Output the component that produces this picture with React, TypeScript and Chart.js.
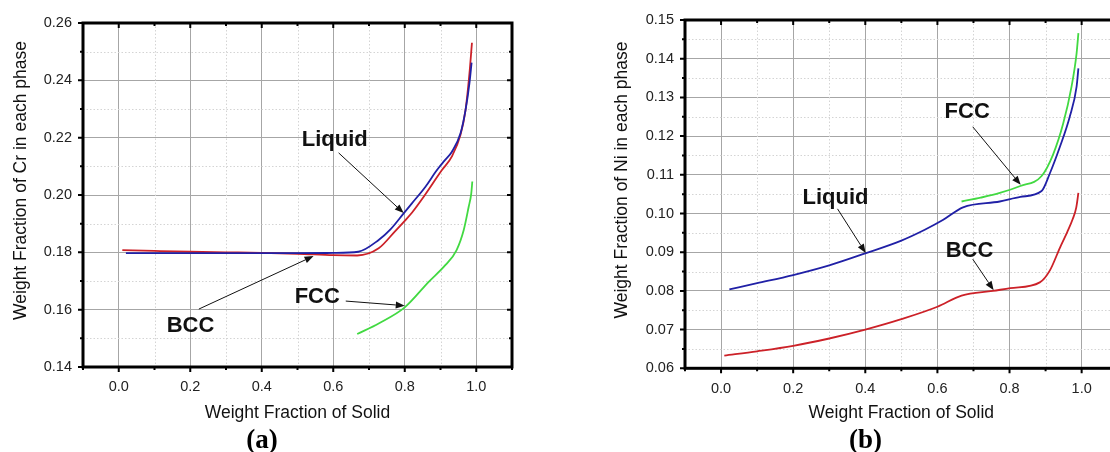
import React, { useEffect, useRef } from 'react';
import { Chart, registerables } from 'chart.js';

Chart.register(...registerables);

// ---------------- Panel (a): Cr ----------------
const liquidCrX = [0.02, 0.1, 0.2, 0.3, 0.4, 0.5, 0.6, 0.67, 0.727, 0.76, 0.797, 0.82, 0.858, 0.886, 0.895, 0.91, 0.932, 0.956, 0.97, 0.981, 0.987];
const liquidCrY = [0.1797, 0.1797, 0.1797, 0.1797, 0.1797, 0.1797, 0.1798, 0.1802, 0.1843, 0.188, 0.1936, 0.1971, 0.2029, 0.208, 0.2095, 0.2118, 0.2151, 0.2215, 0.2296, 0.239, 0.2462];

const bccCrX = [0.01, 0.1, 0.2, 0.3, 0.4, 0.5, 0.6, 0.667, 0.727, 0.774, 0.8, 0.82, 0.848, 0.904, 0.932, 0.956, 0.97, 0.981, 0.988];
const bccCrY = [0.1808, 0.1805, 0.1802, 0.18, 0.1798, 0.1795, 0.179, 0.1789, 0.1814, 0.1875, 0.191, 0.1938, 0.1985, 0.2087, 0.2135, 0.221, 0.2296, 0.2424, 0.2531];

const fccCrX = [0.667, 0.727, 0.8, 0.867, 0.914, 0.945, 0.965, 0.979, 0.986, 0.989];
const fccCrY = [0.1515, 0.1552, 0.1608, 0.1697, 0.1756, 0.1808, 0.1878, 0.196, 0.2005, 0.2047];

// ---------------- Panel (b): Ni ----------------
const liquidNiX = [0.023, 0.1, 0.2, 0.3, 0.4, 0.5, 0.565, 0.615, 0.671, 0.773, 0.83, 0.889, 0.912, 0.94, 0.967, 0.986, 0.991];
const liquidNiY = [0.0804, 0.082, 0.0841, 0.0866, 0.0897, 0.093, 0.0958, 0.0983, 0.1016, 0.1031, 0.1043, 0.1058, 0.1104, 0.1173, 0.125, 0.1328, 0.1375];

const fccNiX = [0.667, 0.72, 0.773, 0.83, 0.889, 0.921, 0.949, 0.972, 0.986, 0.991];
const fccNiY = [0.1031, 0.1041, 0.1053, 0.1071, 0.1097, 0.1153, 0.1233, 0.1328, 0.1414, 0.1466];

const bccNiX = [0.009, 0.1, 0.2, 0.3, 0.4, 0.5, 0.6, 0.667, 0.754, 0.802, 0.884, 0.912, 0.94, 0.96, 0.975, 0.985, 0.991];
const bccNiY = [0.0633, 0.0644, 0.0658, 0.0677, 0.07, 0.0727, 0.0759, 0.0788, 0.08, 0.0807, 0.0822, 0.0853, 0.0912, 0.0952, 0.0985, 0.1015, 0.1053];

// ---------------- Text ----------------
const xAxisTitle = 'Weight Fraction of Solid';
const yTitleA = 'Weight Fraction of Cr in each phase';
const yTitleB = 'Weight Fraction of Ni in each phase';

// Annotation labels: [text, labelX, labelY, arrowFromX, arrowFromY, arrowToX, arrowToY] in data units
const notesA: [string, number, number, number, number, number, number][] = [
  ['Liquid', 0.512, 0.2192, 0.615, 0.2147, 0.797, 0.1937],
  ['BCC', 0.134, 0.1543, 0.224, 0.1602, 0.545, 0.1787],
  ['FCC', 0.492, 0.1644, 0.635, 0.163, 0.8, 0.1614],
];
const notesB: [string, number, number, number, number, number, number][] = [
  ['Liquid', 0.226, 0.104, 0.323, 0.1012, 0.401, 0.0898],
  ['FCC', 0.62, 0.1262, 0.698, 0.1224, 0.831, 0.1074],
  ['BCC', 0.623, 0.0903, 0.698, 0.0882, 0.756, 0.0802],
];

const COLOR_LIQUID = '#2020a6';
const COLOR_BCC = '#cc2128';
const COLOR_FCC = '#42d942';
const GRID_MAJOR = '#a6a6a6';
const GRID_MINOR = '#d4d4d4';
const SANS = '"Liberation Sans", Arial, sans-serif';
const SERIF = '"Liberation Serif", "Times New Roman", serif';

const zip = (xs: number[], ys: number[]) => xs.map((x, i) => ({ x, y: ys[i] }));

interface Spec {
  left: number;
  width: number;
  padTop: number;
  padRight: number;
  yAxisW: number;
  xAxisH: number;
  yMin: number;
  yMax: number;
  yStep: number;
  yMajor: number;
  yTitle: string;
  yTitleX: number;
  yTitleY: number;
  panelLabel: string;
  panelLabelX: number;
  series: { x: number[]; y: number[]; color: string }[];
  notes: [string, number, number, number, number, number, number][];
}

const specA: Spec = {
  left: 0, width: 560, padTop: 23, padRight: 48, yAxisW: 83, xAxisH: 85,
  yMin: 0.14, yMax: 0.26, yStep: 0.01, yMajor: 0.02,
  yTitle: yTitleA, yTitleX: 21, yTitleY: 180.5,
  panelLabel: '(a)', panelLabelX: 262,
  series: [
    { x: liquidCrX, y: liquidCrY, color: COLOR_LIQUID },
    { x: bccCrX, y: bccCrY, color: COLOR_BCC },
    { x: fccCrX, y: fccCrY, color: COLOR_FCC },
  ],
  notes: notesA,
};

const specB: Spec = {
  left: 560, width: 570, padTop: 20, padRight: 12.3, yAxisW: 125, xAxisH: 83.7,
  yMin: 0.06, yMax: 0.15, yStep: 0.005, yMajor: 0.01,
  yTitle: yTitleB, yTitleX: 62, yTitleY: 180,
  panelLabel: '(b)', panelLabelX: 305.5,
  series: [
    { x: liquidNiX, y: liquidNiY, color: COLOR_LIQUID },
    { x: fccNiX, y: fccNiY, color: COLOR_FCC },
    { x: bccNiX, y: bccNiY, color: COLOR_BCC },
  ],
  notes: notesB,
};

const isMajorX = (v: number) => Math.round(v * 10) % 2 === 0;
const makeMajorY = (major: number) => (v: number) => {
  const r = v / major;
  return Math.abs(r - Math.round(r)) < 1e-6;
};

function drawArrow(ctx: CanvasRenderingContext2D, x0: number, y0: number, x1: number, y1: number) {
  const ang = Math.atan2(y1 - y0, x1 - x0);
  const hl = 9;
  const hw = 3.5;
  const bx = x1 - hl * Math.cos(ang);
  const by = y1 - hl * Math.sin(ang);
  ctx.beginPath();
  ctx.moveTo(x0, y0);
  ctx.lineTo(bx, by);
  ctx.lineWidth = 1;
  ctx.strokeStyle = '#111';
  ctx.stroke();
  ctx.beginPath();
  ctx.moveTo(x1, y1);
  ctx.lineTo(bx + hw * Math.sin(ang), by - hw * Math.cos(ang));
  ctx.lineTo(bx - hw * Math.sin(ang), by + hw * Math.cos(ang));
  ctx.closePath();
  ctx.fillStyle = '#111';
  ctx.fill();
}

function decoPlugin(p: Spec) {
  const isMajorY = makeMajorY(p.yMajor);
  return {
    id: 'deco',
    beforeDatasetsDraw(chart: any) {
      const { ctx, chartArea: a, scales } = chart;
      const x = scales.x;
      const y = scales.y;
      ctx.save();
      ctx.strokeStyle = GRID_MINOR;
      ctx.lineWidth = 1;
      ctx.setLineDash([1.5, 2]);
      x.ticks.forEach((t: any) => {
        if (isMajorX(t.value)) return;
        const px = Math.round(x.getPixelForValue(t.value)) + 0.5;
        ctx.beginPath();
        ctx.moveTo(px, a.top);
        ctx.lineTo(px, a.bottom);
        ctx.stroke();
      });
      y.ticks.forEach((t: any) => {
        if (isMajorY(t.value)) return;
        const py = Math.round(y.getPixelForValue(t.value)) + 0.5;
        ctx.beginPath();
        ctx.moveTo(a.left, py);
        ctx.lineTo(a.right, py);
        ctx.stroke();
      });
      ctx.restore();
    },
    afterDatasetsDraw(chart: any) {
      const { ctx, chartArea: a, scales } = chart;
      const x = scales.x;
      const y = scales.y;
      ctx.save();
      // frame
      ctx.strokeStyle = '#000';
      ctx.lineWidth = 3;
      ctx.strokeRect(a.left, a.top, a.right - a.left, a.bottom - a.top);
      // tick marks
      ctx.lineWidth = 2;
      x.ticks.forEach((t: any) => {
        const px = x.getPixelForValue(t.value);
        const len = isMajorX(t.value) ? 5 : 3;
        ctx.beginPath();
        ctx.moveTo(px, a.bottom);
        ctx.lineTo(px, a.bottom + len);
        ctx.moveTo(px, a.top);
        ctx.lineTo(px, a.top + len);
        ctx.stroke();
      });
      y.ticks.forEach((t: any) => {
        const py = y.getPixelForValue(t.value);
        const len = isMajorY(t.value) ? 5 : 3;
        ctx.beginPath();
        ctx.moveTo(a.left, py);
        ctx.lineTo(a.left - len, py);
        ctx.moveTo(a.right, py);
        ctx.lineTo(a.right - len, py);
        ctx.stroke();
      });
      // annotations
      p.notes.forEach(([text, lx, ly, x0, y0, x1, y1]) => {
        ctx.font = `bold 22px ${SANS}`;
        ctx.fillStyle = '#111';
        ctx.textAlign = 'left';
        ctx.textBaseline = 'middle';
        ctx.fillText(text, x.getPixelForValue(lx), y.getPixelForValue(ly));
        drawArrow(ctx, x.getPixelForValue(x0), y.getPixelForValue(y0), x.getPixelForValue(x1), y.getPixelForValue(y1));
      });
      // axis titles
      ctx.fillStyle = '#111';
      ctx.font = `17.5px ${SANS}`;
      ctx.textAlign = 'center';
      ctx.textBaseline = 'middle';
      ctx.fillText(xAxisTitle, (a.left + a.right) / 2, 412.7);
      ctx.save();
      ctx.translate(p.yTitleX, p.yTitleY);
      ctx.rotate(-Math.PI / 2);
      ctx.fillText(p.yTitle, 0, 0);
      ctx.restore();
      // panel label
      ctx.font = `bold 27px ${SERIF}`;
      ctx.textBaseline = 'alphabetic';
      ctx.fillStyle = '#000';
      ctx.fillText(p.panelLabel, p.panelLabelX, 448);
      ctx.restore();
    },
  };
}

function buildConfig(p: Spec): any {
  const isMajorY = makeMajorY(p.yMajor);
  return {
    type: 'line',
    data: {
      datasets: p.series.map((s) => ({
        data: zip(s.x, s.y),
        borderColor: s.color,
        backgroundColor: s.color,
        borderWidth: 1.8,
        pointRadius: 0,
        cubicInterpolationMode: 'monotone',
        fill: false,
      })),
    },
    options: {
      responsive: false,
      animation: false,
      events: [],
      layout: { padding: { left: 0, top: p.padTop, right: p.padRight, bottom: 0 } },
      plugins: { legend: { display: false }, tooltip: { enabled: false }, title: { display: false } },
      scales: {
        x: {
          type: 'linear',
          min: -0.1,
          max: 1.1,
          afterFit: (s: any) => { s.height = p.xAxisH; },
          ticks: {
            stepSize: 0.1,
            autoSkip: false,
            maxRotation: 0,
            padding: 11.5,
            color: '#222',
            font: { family: SANS, size: 14.5 },
            callback: (v: number) => {
              const k = Math.round(v * 10);
              return k % 2 === 0 && k >= 0 && k <= 10 ? (k / 10).toFixed(1) : '';
            },
          },
          grid: {
            color: (c: any) => (c.tick && isMajorX(c.tick.value) ? GRID_MAJOR : 'rgba(0,0,0,0)'),
            drawTicks: false,
            lineWidth: 1,
          },
          border: { display: false },
        },
        y: {
          type: 'linear',
          min: p.yMin,
          max: p.yMax,
          afterFit: (s: any) => { s.width = p.yAxisW; },
          ticks: {
            stepSize: p.yStep,
            autoSkip: false,
            padding: 11,
            color: '#222',
            font: { family: SANS, size: 14.5 },
            callback: (v: number) => (isMajorY(v) ? v.toFixed(2) : ''),
          },
          grid: {
            color: (c: any) => (c.tick && isMajorY(c.tick.value) ? GRID_MAJOR : 'rgba(0,0,0,0)'),
            drawTicks: false,
            lineWidth: 1,
          },
          border: { display: false },
        },
      },
    },
    plugins: [decoPlugin(p)],
  };
}

function Panel({ spec }: { spec: Spec }) {
  const ref = useRef<HTMLCanvasElement>(null);
  useEffect(() => {
    if (!ref.current) return;
    const chart = new Chart(ref.current, buildConfig(spec));
    return () => chart.destroy();
  }, [spec]);
  return (
    <canvas
      ref={ref}
      width={spec.width}
      height={452}
      style={{ position: 'absolute', left: spec.left, top: 0, width: spec.width, height: 452 }}
    />
  );
}

export default function App() {
  return (
    <div style={{ position: 'fixed', left: 0, top: 0, width: 1110, height: 452, overflow: 'hidden', background: '#fff' }}>
      <Panel spec={specA} />
      <Panel spec={specB} />
    </div>
  );
}
